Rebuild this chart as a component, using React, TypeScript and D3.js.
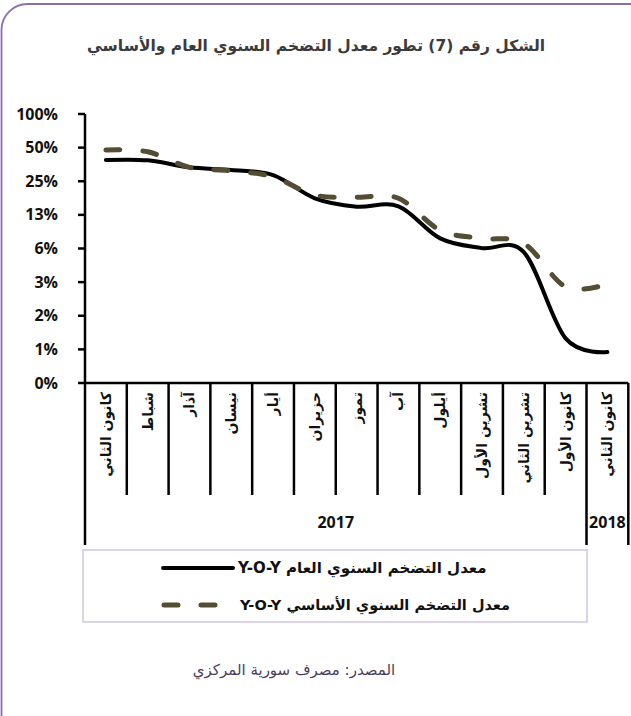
import React from 'react';
import * as d3 from 'd3';

// months (Jan 2017 .. Jan 2018), Arabic Levant names
const months = [
  'كانون الثاني', 'شباط', 'آذار', 'نيسان', 'أيار', 'حزيران', 'تموز',
  'آب', 'أيلول', 'تشرين الأول', 'تشرين الثاني', 'كانون الأول', 'كانون الثاني',
];
const years = [
  { label: '2017', from: 0, to: 12 },
  { label: '2018', from: 12, to: 13 },
];
// Y-O-Y headline inflation, %
const headline = [38.7, 38.5, 33.3, 31.5, 28.4, 17.6, 14.8, 14.9, 7.7, 6.3, 5.8, 0.98, 0.74];
// Y-O-Y core inflation, %
const core = [47.6, 45.9, 33.3, 31.0, 27.4, 18.8, 18.0, 17.6, 9.1, 7.7, 6.95, 2.84, 3.0];
// log2 axis ticks (Excel shows them rounded to whole percents)
const yTicks = [0.390625, 0.78125, 1.5625, 3.125, 6.25, 12.5, 25, 50, 100];

const title = 'الشكل رقم (7) تطور معدل التضخم السنوي العام والأساسي';
const legendHeadline = 'معدل التضخم السنوي العام Y-O-Y';
const legendCore = 'معدل التضخم السنوي الأساسي Y-O-Y';
const source = 'المصدر: مصرف سورية المركزي';

const W = 631;
const H = 716;
const left = 85;
const right = 628.3;
const top = 114;
const bottom = 383;

const arabic = '"DejaVu Sans", sans-serif';
const latin = '"Open Sans", "DejaVu Sans", sans-serif';
const coreColor = '#544c33';

export default function App() {
  const x = d3.scaleBand<number>().domain(d3.range(months.length)).range([left, right]);
  const y = d3.scaleLog().base(2).domain([0.390625, 100]).range([bottom, top]);
  const line = d3
    .line<number>()
    .x((_, i) => (x(i) ?? 0) + x.bandwidth() / 2)
    .y((d) => y(d))
    .curve(d3.curveCatmullRom.alpha(0));

  const bw = x.bandwidth();
  const edge = (i: number) => left + i * bw;

  return (
    <svg width={W} height={H} style={{ position: 'absolute', left: 0, top: 0, background: '#fff' }}>
      {/* frame */}
      <rect x={1.5} y={4} width={660} height={760} rx={26} fill="none" stroke="#8a6db2" strokeWidth={1.8} />

      <text x={316} y={51} textAnchor="middle" direction="rtl" fontFamily={arabic} fontWeight="bold" fontSize={15.5} fill="#3b3b3b">
        {title}
      </text>

      {/* y axis */}
      <line x1={left} x2={left} y1={top} y2={bottom} stroke="#000" strokeWidth={2.5} />
      {yTicks.map((t) => (
        <g key={t}>
          <line x1={left - 7} x2={left} y1={y(t)} y2={y(t)} stroke="#000" strokeWidth={2.5} />
          <text x={58} y={y(t)} dy="0.35em" textAnchor="end" fontFamily={latin} fontWeight="bold" fontSize={16} fill="#111">
            {d3.format('.0%')(t / 100)}
          </text>
        </g>
      ))}

      {/* category axis */}
      <line x1={left} x2={right} y1={bottom} y2={bottom} stroke="#000" strokeWidth={2.5} />
      {d3.range(months.length + 1).map((i) => {
        const long = years.some((yr) => yr.from === i || yr.to === i);
        return (
          <line key={i} x1={edge(i)} x2={edge(i)} y1={bottom} y2={long ? 545 : 495} stroke="#000" strokeWidth={2.5} />
        );
      })}
      {months.map((m, i) => {
        const cx = (x(i) ?? 0) + bw / 2;
        return (
          <text key={i} transform={`translate(${cx},392) rotate(-90)`} dy="0.35em" textAnchor="end"
            fontFamily={arabic} fontWeight="bold" fontSize={14} fill="#111">
            {m}
          </text>
        );
      })}
      {years.map((yr) => (
        <text key={yr.label} x={(edge(yr.from) + edge(yr.to)) / 2} y={522} dy="0.35em" textAnchor="middle"
          fontFamily={latin} fontWeight="bold" fontSize={16} fill="#111">
          {yr.label}
        </text>
      ))}

      {/* series */}
      <path d={line(headline) ?? ''} fill="none" stroke="#000" strokeWidth={4} strokeLinecap="round" />
      <path d={line(core) ?? ''} fill="none" stroke={coreColor} strokeWidth={5} strokeLinecap="round" strokeDasharray="14,23" />

      {/* legend */}
      <rect x={83} y={550} width={504} height={72} fill="none" stroke="#cfc6e0" strokeWidth={1.5} />
      <line x1={163} x2={233} y1={568} y2={568} stroke="#000" strokeWidth={4} strokeLinecap="round" />
      <text x={238} y={568} dy="0.35em" direction="rtl" textAnchor="end" fontFamily={arabic} fontWeight="bold" fontSize={15} fill="#111">
        {legendHeadline}
      </text>
      <line x1={164} x2={218} y1={605} y2={605} stroke={coreColor} strokeWidth={5} strokeLinecap="round" strokeDasharray="14,23" />
      <text x={240} y={605} dy="0.35em" direction="rtl" textAnchor="end" fontFamily={arabic} fontWeight="bold" fontSize={14.5} fill="#111">
        {legendCore}
      </text>

      <text x={294} y={670} dy="0.35em" textAnchor="middle" direction="rtl" fontFamily={arabic} fontSize={15} fill="#4a3d5e">
        {source}
      </text>
    </svg>
  );
}
